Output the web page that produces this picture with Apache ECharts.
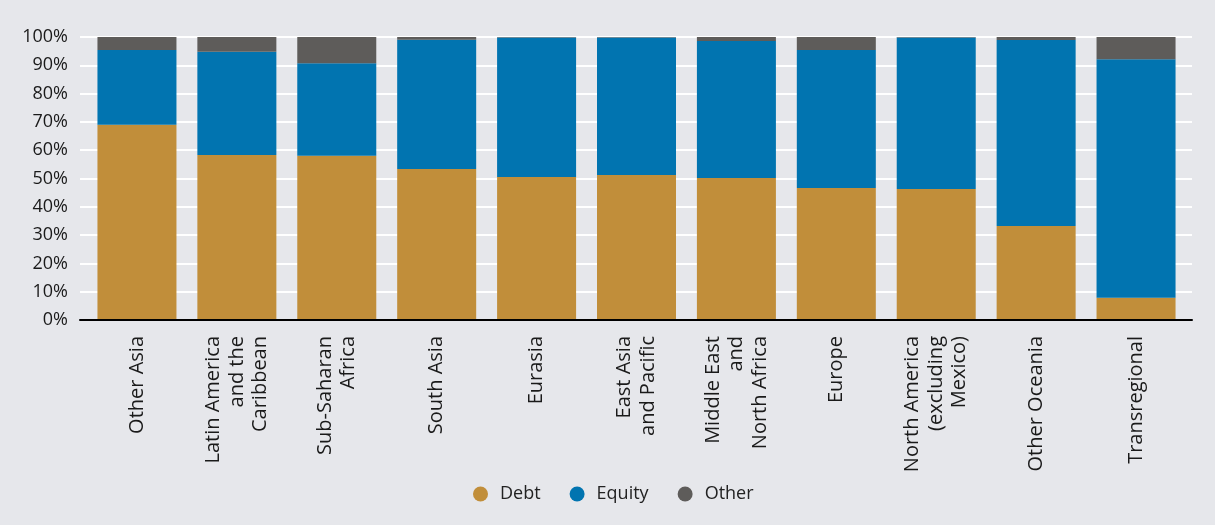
<!DOCTYPE html>
<html><head><meta charset="utf-8">
<script src="https://cdn.jsdelivr.net/npm/echarts@6/dist/echarts.min.js"></script>
<style>html,body{margin:0;padding:0;background:#E6E7EB;}#c{width:1215px;height:525px;}</style>
</head><body><div id="c"></div>
<script>
const categories = ['Other Asia','Latin America\nand the\nCaribbean','Sub-Saharan\nAfrica','South Asia','Eurasia','East Asia\nand Pacific','Middle East\nand\nNorth Africa','Europe','North America\n(excluding\nMexico)','Other Oceania','Transregional'];
const debt   = [69.0, 58.3, 58.0, 53.4, 50.5, 51.2, 50.2, 46.6, 46.3, 33.2, 7.9];
const equity = [26.4, 36.5, 32.7, 45.6, 49.3, 48.6, 48.4, 48.8, 53.5, 65.7, 84.2];
const other  = [4.6, 5.2, 9.3, 1.0, 0.2, 0.2, 1.4, 4.6, 0.2, 1.1, 7.9];
const yTicks = [0,10,20,30,40,50,60,70,80,90,100];

const font = '"Open Sans", sans-serif';
const chart = echarts.init(document.getElementById('c'));
chart.setOption({
  backgroundColor: '#E6E7EB',
  animation: false,
  grid: [
    {left: 80, right: 23, top: 37, bottom: 205},
    {left: 87, right: 29, top: 37, bottom: 205}
  ],
  legend: {
    bottom: 17, left: 468,
    icon: 'circle', itemWidth: 15, itemHeight: 15, itemGap: 29,
    textStyle: {fontFamily: font, fontSize: 18, color: '#222', padding: [0, 0, 0, 7]},
    data: ['Debt','Equity','Other']
  },
  xAxis: [
    {gridIndex: 0, type: 'category', data: categories,
     axisLine: {show: true, lineStyle: {color: '#000', width: 2}},
     axisTick: {show: false}, axisLabel: {show: false}, z: 10},
    {gridIndex: 1, type: 'category', data: categories,
     axisLine: {show: false}, axisTick: {show: false},
     axisLabel: {rotate: 90, margin: 16, fontFamily: font, fontSize: 20, lineHeight: 23.5,
                 color: '#1a1a1a', align: 'right', verticalAlign: 'middle'}}
  ],
  yAxis: [
    {gridIndex: 0, type: 'value', min: 0, max: 100, interval: 10,
     axisLabel: {formatter: v => yTicks.includes(v) ? v + '%' : '', margin: 12,
                 fontFamily: font, fontSize: 18, color: '#1a1a1a'},
     axisLine: {show: false}, axisTick: {show: false},
     splitLine: {lineStyle: {color: '#ffffff', width: 2}}},
    {gridIndex: 1, type: 'value', min: 0, max: 100, interval: 10, show: false,
     splitLine: {show: false}}
  ],
  series: [
    {name: 'Debt', type: 'bar', stack: 's', xAxisIndex: 1, yAxisIndex: 1, data: debt,
     barWidth: 79, itemStyle: {color: '#C18E3A'}},
    {name: 'Equity', type: 'bar', stack: 's', xAxisIndex: 1, yAxisIndex: 1, data: equity,
     barWidth: 79, itemStyle: {color: '#0174B0'}},
    {name: 'Other', type: 'bar', stack: 's', xAxisIndex: 1, yAxisIndex: 1, data: other,
     barWidth: 79, itemStyle: {color: '#5E5C5A'}}
  ]
});
</script></body></html>
